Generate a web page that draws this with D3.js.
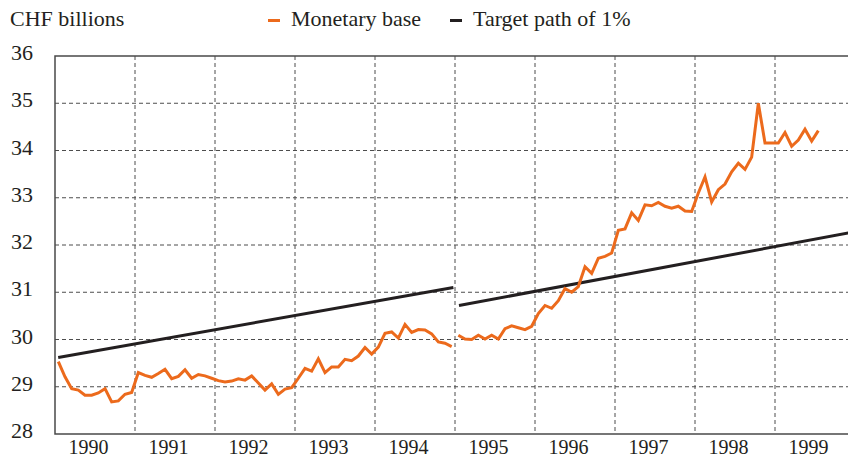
<!DOCTYPE html>
<html>
<head>
<meta charset="utf-8">
<script src="https://cdn.jsdelivr.net/npm/d3@7"></script>
<style>
    body { margin: 0; background: #fff; }
</style>
</head>
<body>
<svg width="848" height="458" font-family="Liberation Serif, Times New Roman, serif"></svg>
<script>
//data: monthly monetary base, CHF billions, from Jan 1990
var startYear = 1990;
var monetaryBase1 = [
    29.53, 29.21, 28.96, 28.93, 28.82, 28.82, 28.87, 28.96, 28.68, 28.70, 28.84, 28.88,
    29.30, 29.24, 29.20, 29.28, 29.37, 29.17, 29.22, 29.36, 29.18, 29.26, 29.23, 29.18,
    29.13, 29.10, 29.12, 29.17, 29.14, 29.23, 29.08, 28.93, 29.06, 28.84, 28.95, 28.98,
    29.18, 29.39, 29.33, 29.59, 29.30, 29.42, 29.42, 29.58, 29.55, 29.65, 29.83, 29.69,
    29.84, 30.13, 30.16, 30.03, 30.32, 30.15, 30.21, 30.20, 30.12, 29.95, 29.92, 29.85
];
//from Jan 1995
var secondStart = 1995;
var monetaryBase2 = [
    30.09, 30.01, 30.00, 30.09, 30.01, 30.09, 30.01, 30.23, 30.29, 30.25, 30.21, 30.28,
    30.55, 30.72, 30.66, 30.82, 31.08, 31.00, 31.12, 31.54, 31.40, 31.72, 31.76, 31.83,
    32.31, 32.34, 32.68, 32.52, 32.85, 32.83, 32.90, 32.82, 32.78, 32.82, 32.72, 32.71,
    33.10, 33.44, 32.91, 33.17, 33.29, 33.55, 33.73, 33.60, 33.86, 35.00, 34.16, 34.16,
    34.16, 34.38, 34.09, 34.22, 34.45, 34.20, 34.42
];
//target path of 1%: [year, value] end points of each segment
var targetPath1 = [[1990.04, 29.62], [1994.98, 31.10]],
    targetPath2 = [[1995.05, 30.72], [2000.0, 32.28]];

var yTicks = [28, 29, 30, 31, 32, 33, 34, 35, 36];
var xYears = [1990, 1991, 1992, 1993, 1994, 1995, 1996, 1997, 1998, 1999];
var gridYears = [1991, 1992, 1993, 1994, 1995, 1996, 1997, 1998, 1999];

var colors = {
    "base": "#ec6a1c",
    "target": "#231f20",
    "text": "#231f20",
    "grid": "#4d4d4d",
    "axis": "#4a4a4a"
};

//visual sizes
var svg = d3.select("svg"),
    width = +svg.attr("width"),
    height = +svg.attr("height"),
    plotLeft = 55,
    plotTop = 56,
    plotBottom = 434;

//scales
var scaleX = d3.scaleLinear()
    .domain([1990, 2000])
    .range([plotLeft, plotLeft + 800]);
var scaleY = d3.scaleLinear()
    .domain([28, 36])
    .range([plotBottom, plotTop]);

function toPoints(values, year0) {
    return values.map((v, i) => [year0 + (i + 0.5) / 12, v]);
}

var line = d3.line()
    .x(d => scaleX(d[0]))
    .y(d => scaleY(d[1]));

//grid
var gGrid = svg.append("g");
gGrid.selectAll(".hgrid")
    .data(yTicks.slice(1, -1))
    .enter().append("line")
    .attr("x1", plotLeft)
    .attr("x2", width)
    .attr("y1", d => scaleY(d))
    .attr("y2", d => scaleY(d))
    .attr("stroke", colors.grid)
    .attr("stroke-width", 1)
    .attr("stroke-dasharray", "4,3");
gGrid.selectAll(".vgrid")
    .data(gridYears)
    .enter().append("line")
    .attr("x1", d => scaleX(d))
    .attr("x2", d => scaleX(d))
    .attr("y1", plotTop)
    .attr("y2", plotBottom)
    .attr("stroke", colors.grid)
    .attr("stroke-width", 1)
    .attr("stroke-dasharray", "4,3");

//frame: left, top, bottom
svg.append("path")
    .attr("d", "M" + width + "," + scaleY(36) + "H" + plotLeft + "V" + scaleY(28) + "H" + width)
    .attr("fill", "none")
    .attr("stroke", colors.axis)
    .attr("stroke-width", 1.5);

//y labels
svg.selectAll(".ylab")
    .data(yTicks)
    .enter().append("text")
    .attr("x", 33)
    .attr("y", d => scaleY(d) + 4)
    .attr("text-anchor", "end")
    .attr("font-size", 22)
    .attr("fill", colors.text)
    .text(d => d);

//x labels
svg.selectAll(".xlab")
    .data(xYears)
    .enter().append("text")
    .attr("x", d => scaleX(d + 0.42))
    .attr("y", 454)
    .attr("text-anchor", "middle")
    .attr("font-size", 20)
    .attr("fill", colors.text)
    .text(d => d);

//target path
[targetPath1, targetPath2].forEach(seg => {
    svg.append("path")
        .attr("d", line(seg))
        .attr("fill", "none")
        .attr("stroke", colors.target)
        .attr("stroke-width", 3);
});

//monetary base
[toPoints(monetaryBase1, startYear), toPoints(monetaryBase2, secondStart)].forEach(seg => {
    svg.append("path")
        .attr("d", line(seg))
        .attr("fill", "none")
        .attr("stroke", colors.base)
        .attr("stroke-width", 3)
        .attr("stroke-linejoin", "miter");
});

//unit label
svg.append("text")
    .attr("x", 10)
    .attr("y", 26)
    .attr("font-size", 22)
    .attr("fill", colors.text)
    .text("CHF billions");

//legend
var legend = [
    {"label": "Monetary base", "color": colors.base, "x": 268},
    {"label": "Target path of 1%", "color": colors.target, "x": 450}
];
var gLegend = svg.selectAll(".legend")
    .data(legend)
    .enter().append("g")
    .attr("transform", d => "translate(" + [d.x, 0] + ")");
gLegend.append("line")
    .attr("x1", 0)
    .attr("x2", 12)
    .attr("y1", 20.5)
    .attr("y2", 20.5)
    .attr("stroke", d => d.color)
    .attr("stroke-width", 3);
gLegend.append("text")
    .attr("x", 23)
    .attr("y", 26)
    .attr("font-size", 22)
    .attr("fill", colors.text)
    .text(d => d.label);
</script>
</body>
</html>
